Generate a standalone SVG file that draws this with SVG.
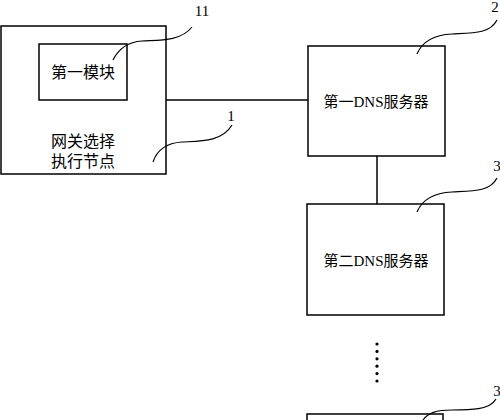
<svg xmlns="http://www.w3.org/2000/svg" width="500" height="420" viewBox="0 0 500 420">
<style>
.box{fill:#fff;stroke:#000;stroke-width:1.5}
.ln{fill:none;stroke:#000;stroke-width:1.5}
.ld{fill:none;stroke:#000;stroke-width:1.2}
.t{font-family:"Liberation Serif","Noto Sans CJK SC",serif;font-size:16px;fill:#000;text-anchor:middle}
.d{font-family:"Liberation Serif","Noto Sans CJK SC",serif;font-size:15px;fill:#000;text-anchor:middle}
.n{font-family:"Liberation Serif",serif;font-size:15px;fill:#000;text-anchor:middle}
</style>
<rect width="500" height="420" fill="#fff"/>
<g id="connectors">
<line class="ln" x1="166" y1="100" x2="308" y2="100"/>
<line class="ln" x1="377" y1="156" x2="377" y2="204"/>
<g fill="#000">
<circle cx="377" cy="344" r="1.6"/>
<circle cx="377" cy="351.4" r="1.6"/>
<circle cx="377" cy="358.8" r="1.6"/>
<circle cx="377" cy="366.2" r="1.6"/>
<circle cx="377" cy="373.6" r="1.6"/>
<circle cx="377" cy="381" r="1.6"/>
</g>
</g>
<g id="node1">
<rect class="box" x="1" y="26" width="165" height="148"/>
<text class="t" x="83" y="147">网关选择</text>
<text class="t" x="83" y="167">执行节点</text>
<path class="ld" d="M153,162 C157,150 166,143 182,142 C200,141 222,142 232,125"/>
<text class="n" x="231" y="121">1</text>
</g>
<g id="node11">
<rect class="box" x="39" y="44" width="88" height="56"/>
<text class="t" x="83" y="78">第一模块</text>
<path class="ld" d="M113,60 C118,50 126,42 142,41 C158,40 180,42 192,27"/>
<text class="n" x="202" y="16">11</text>
</g>
<g id="node2">
<rect class="box" x="308" y="46" width="137" height="110"/>
<text class="d" x="376" y="107">第一DNS服务器</text>
<path class="ld" d="M417,54 C422,42 432,35 452,34 C472,33 490,34 497,20"/>
<text class="n" x="495" y="12">2</text>
</g>
<g id="node3a">
<rect class="box" x="307" y="204" width="137" height="111"/>
<text class="d" x="376" y="266">第二DNS服务器</text>
<path class="ld" d="M417,212 C422,200 432,193 452,192 C472,191 490,192 497,178"/>
<text class="n" x="497" y="171">3</text>
</g>
<g id="node3b">
<rect class="box" x="307" y="414" width="136" height="20"/>
<path class="ld" d="M423,420 C428,413 436,410 452,410 C470,410 490,410 496,399"/>
<text class="n" x="497" y="396">3</text>
</g>
</svg>
